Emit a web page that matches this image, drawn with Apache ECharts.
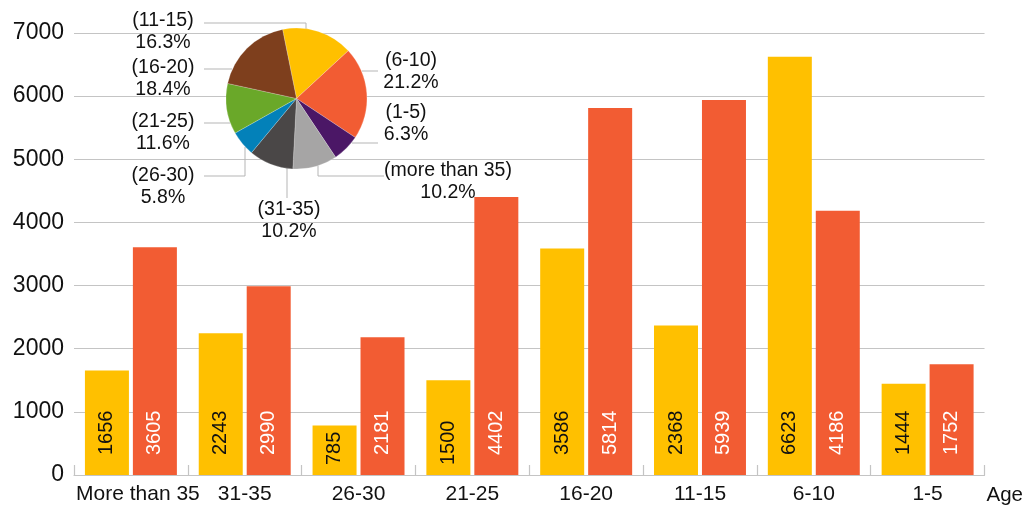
<!DOCTYPE html>
<html>
<head>
<meta charset="utf-8">
<script src="https://cdn.jsdelivr.net/npm/echarts@6/dist/echarts.min.js"></script>
<style>
html,body{margin:0;padding:0;background:#fff;}
#c{width:1026px;height:510px;}
</style>
</head>
<body>
<div id="c"></div>
<script>
// ---- data ----
var categories = ['More than 35', '31-35', '26-30', '21-25', '16-20', '11-15', '6-10', '1-5'];
var seriesA = [1656, 2243, 785, 1500, 3586, 2368, 6623, 1444];
var seriesB = [3605, 2990, 2181, 4402, 5814, 5939, 4186, 1752];
var yTicks = [0, 1000, 2000, 3000, 4000, 5000, 6000, 7000];
var pieNames = ['(11-15)', '(6-10)', '(1-5)', '(more than 35)', '(31-35)', '(26-30)', '(21-25)', '(16-20)'];
var piePercents = [16.3, 21.2, 6.3, 10.2, 10.2, 5.8, 11.6, 18.4];

// ---- styles / layout ----
var FONT = '"Liberation Sans", Arial, Helvetica, sans-serif';
var TEXT = '#111';
var GRID_C = '#c4c4c4';
var pieColors = ['#FFC000', '#F25C33', '#4B1766', '#A6A5A5', '#4A4747', '#0381B9', '#6AA829', '#7E3F1D'];
var pieLabelPos = [
  {x: 163, y: 32,  pts: [[306, 29], [306, 23], [204, 23]]},
  {x: 411, y: 72,  pts: [[362, 71], [370, 71], [378, 71]]},
  {x: 406, y: 124, pts: [[352, 143], [365, 143], [378, 143]]},
  {x: 448, y: 182, pts: [[318, 166], [318, 176], [384, 176]]},
  {x: 289, y: 221, pts: [[287, 168], [287, 183], [287, 198]]},
  {x: 163, y: 187, pts: [[245, 147], [245, 176], [204, 176]]},
  {x: 163, y: 133, pts: [[230, 123], [216, 123], [204, 123]]},
  {x: 163, y: 79,  pts: [[232, 69], [217, 69], [204, 69]]}
];
var shortBarLabelDist = {2: 10, 3: 10};

function barData(values, isA) {
  return values.map(function (v, i) {
    var d = {value: v};
    if (isA && shortBarLabelDist[i] !== undefined) {
      d.label = {distance: shortBarLabelDist[i]};
    }
    return d;
  });
}

var chart = echarts.init(document.getElementById('c'), null, {renderer: 'canvas'});
var option = {
  animation: false,
  backgroundColor: '#fff',
  textStyle: {fontFamily: FONT},
  grid: {left: 74, right: 40, top: 33, bottom: 35, containLabel: false},
  xAxis: {
    type: 'category',
    data: categories,
    boundaryGap: true,
    name: 'Age',
    nameLocation: 'end',
    nameGap: 2,
    nameTextStyle: {fontFamily: FONT, fontSize: 20.5, color: TEXT, align: 'left', verticalAlign: 'top', padding: [10, 0, 0, 0]},
    axisLine: {show: true, lineStyle: {color: GRID_C, width: 1.2}},
    axisTick: {show: true, inside: true, length: 10, lineStyle: {color: GRID_C, width: 1.2}},
    axisLabel: {
      fontFamily: FONT, fontSize: 21, color: TEXT, margin: 9, interval: 0,
      formatter: function (v, i) { return i === 0 ? '{a|' + v + '}' : v; },
      rich: {a: {fontFamily: FONT, fontSize: 21, color: TEXT, padding: [0, 0, 0, 14]}}
    },
    splitLine: {show: false}
  },
  yAxis: {
    type: 'value',
    min: yTicks[0],
    max: yTicks[yTicks.length - 1],
    interval: yTicks[1] - yTicks[0],
    axisLine: {show: false},
    axisTick: {show: false},
    axisLabel: {fontFamily: FONT, fontSize: 23, color: TEXT, margin: 10,
      formatter: function (v) { return String(v); }},
    splitLine: {show: true, lineStyle: {color: GRID_C, width: 1.2}}
  },
  series: [
    {
      type: 'bar',
      data: barData(seriesA, true),
      barWidth: 44,
      barGap: '9%',
      itemStyle: {color: '#FFC000'},
      label: {
        show: true, position: 'insideBottom', distance: 20, rotate: 90,
        align: 'left', verticalAlign: 'middle',
        fontFamily: FONT, fontSize: 20, color: '#111'
      },
      z: 2
    },
    {
      type: 'bar',
      data: barData(seriesB, false),
      barWidth: 44,
      barGap: '9%',
      itemStyle: {color: '#F25C33'},
      label: {
        show: true, position: 'insideBottom', distance: 20, rotate: 90,
        align: 'left', verticalAlign: 'middle',
        fontFamily: FONT, fontSize: 20, color: '#fff'
      },
      z: 2
    },
    {
      type: 'pie',
      center: [296.5, 98.5],
      radius: 70.5,
      startAngle: 101.4,
      clockwise: true,
      z: 10,
      data: pieNames.map(function (n, i) {
        return {name: n, value: piePercents[i], itemStyle: {color: pieColors[i]}};
      }),
      itemStyle: {borderColor: 'rgba(255,255,255,0.35)', borderWidth: 0.6},
      label: {
        show: true,
        formatter: function (p) { return p.name + '\n' + p.value.toFixed(1) + '%'; },
        fontFamily: FONT, fontSize: 19.5, lineHeight: 22, color: TEXT, align: 'center'
      },
      labelLine: {show: true, lineStyle: {color: '#b5b5b5', width: 1}, length: 10, length2: 10},
      labelLayout: function (params) {
        var p = pieLabelPos[params.dataIndex];
        return {x: p.x, y: p.y, align: 'center', verticalAlign: 'middle', labelLinePoints: p.pts};
      },
      emphasis: {disabled: true}
    }
  ]
};
chart.setOption(option);
</script>
</body>
</html>
